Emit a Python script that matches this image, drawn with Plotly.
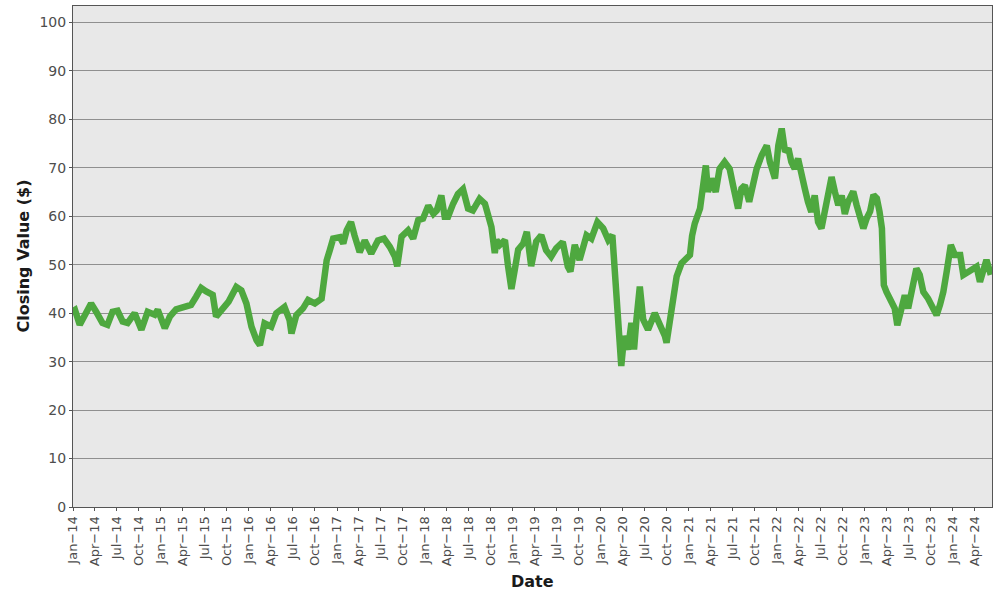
import pandas as pd
import plotly.graph_objects as go

dates = [
    "2014-01-02", "2014-01-09", "2014-01-29", "2014-02-19", "2014-03-17", "2014-04-07",
    "2014-05-03", "2014-05-24", "2014-06-14", "2014-07-05", "2014-07-26", "2014-08-16",
    "2014-09-14", "2014-10-12", "2014-11-07", "2014-12-06", "2014-12-19", "2015-01-17",
    "2015-02-07", "2015-03-05", "2015-04-09", "2015-05-06", "2015-05-27", "2015-06-17",
    "2015-07-08", "2015-08-04", "2015-08-18", "2015-09-14", "2015-10-09", "2015-11-10",
    "2015-12-01", "2015-12-22", "2016-01-12", "2016-02-02", "2016-02-16", "2016-03-06",
    "2016-04-03", "2016-04-24", "2016-05-28", "2016-06-18", "2016-06-26", "2016-07-16",
    "2016-08-13", "2016-09-03", "2016-10-01", "2016-10-29", "2016-11-09", "2016-11-19",
    "2016-12-02", "2016-12-16", "2017-01-13", "2017-01-27", "2017-02-10", "2017-02-28",
    "2017-03-15", "2017-04-05", "2017-04-26", "2017-05-23", "2017-06-20", "2017-07-15",
    "2017-08-08", "2017-08-29", "2017-09-08", "2017-09-26", "2017-10-23", "2017-11-13",
    "2017-12-04", "2017-12-24", "2018-01-15", "2018-02-05", "2018-02-19", "2018-03-10",
    "2018-03-24", "2018-04-07", "2018-04-28", "2018-05-18", "2018-06-08", "2018-06-29",
    "2018-07-19", "2018-08-16", "2018-09-07", "2018-09-21", "2018-10-04", "2018-10-18",
    "2018-10-25", "2018-11-08", "2018-11-29", "2018-12-12", "2018-12-26", "2019-01-09",
    "2019-01-23", "2019-02-13", "2019-02-28", "2019-03-18", "2019-04-08", "2019-04-29",
    "2019-05-19", "2019-06-09", "2019-06-30", "2019-07-27", "2019-08-17", "2019-08-28",
    "2019-09-15", "2019-10-05", "2019-11-03", "2019-11-23", "2019-12-18", "2020-01-11",
    "2020-02-01", "2020-02-18", "2020-02-28", "2020-03-10", "2020-03-19", "2020-03-26",
    "2020-04-07", "2020-04-23", "2020-05-07", "2020-05-18", "2020-05-28", "2020-06-11",
    "2020-06-25", "2020-07-15", "2020-08-12", "2020-09-02", "2020-09-23", "2020-09-30",
    "2020-10-21", "2020-11-11", "2020-12-01", "2020-12-29", "2021-01-05", "2021-01-14",
    "2021-01-25", "2021-02-16", "2021-03-01", "2021-03-12", "2021-03-21", "2021-04-04",
    "2021-04-22", "2021-05-08", "2021-05-29", "2021-06-19", "2021-07-03", "2021-07-24",
    "2021-08-07", "2021-08-21", "2021-09-08", "2021-09-25", "2021-10-09", "2021-10-30",
    "2021-11-20", "2021-12-03", "2021-12-24", "2022-01-07", "2022-01-21", "2022-02-04",
    "2022-02-18", "2022-03-02", "2022-03-16", "2022-03-30", "2022-04-13", "2022-04-27",
    "2022-05-10", "2022-05-24", "2022-06-07", "2022-06-21", "2022-07-05", "2022-07-19",
    "2022-08-02", "2022-08-16", "2022-08-30", "2022-09-13", "2022-09-27", "2022-10-10",
    "2022-10-24", "2022-11-14", "2022-11-28", "2022-12-12", "2022-12-26", "2023-01-09",
    "2023-01-23", "2023-02-06", "2023-02-20", "2023-03-03", "2023-03-13", "2023-03-17",
    "2023-03-21", "2023-04-01", "2023-04-14", "2023-05-05", "2023-05-16", "2023-05-30",
    "2023-06-16", "2023-06-30", "2023-07-20", "2023-08-03", "2023-08-17", "2023-09-01",
    "2023-09-21", "2023-10-12", "2023-10-26", "2023-11-09", "2023-11-23", "2023-12-07",
    "2023-12-16", "2023-12-24", "2024-01-10", "2024-02-01", "2024-02-14", "2024-03-05",
    "2024-03-26", "2024-04-09", "2024-04-23", "2024-05-06", "2024-05-20", "2024-06-07",
]

closing_values = [
    40.5, 40.7, 37.6, 39.3, 42.0, 40.3,
    38.0, 37.6, 40.3, 40.5, 38.3, 38.0,
    40.0, 36.6, 40.3, 39.7, 40.7, 36.9,
    39.3, 40.8, 41.4, 41.7, 43.4, 45.2,
    44.5, 43.8, 39.3, 41.0, 42.4, 45.4,
    44.7, 42.0, 37.2, 34.4, 33.4, 37.9,
    37.2, 40.0, 41.3, 38.6, 35.8, 39.6,
    41.0, 42.7, 42.0, 43.0, 46.8, 50.9,
    53.0, 55.4, 55.7, 54.4, 57.1, 58.8,
    56.0, 52.6, 55.0, 52.3, 55.0, 55.4,
    53.7, 51.7, 49.7, 55.8, 57.1, 55.4,
    59.2, 59.5, 62.2, 60.5, 61.2, 64.3,
    59.9, 59.9, 62.6, 64.6, 65.6, 61.6,
    61.2, 63.6, 62.6, 60.5, 57.8, 52.4,
    55.1, 54.1, 55.1, 49.7, 45.0, 49.0,
    53.1, 54.4, 56.8, 49.7, 54.8, 56.1,
    53.0, 51.7, 53.4, 54.7, 49.6, 48.6,
    54.1, 51.0, 56.1, 55.4, 58.8, 57.5,
    55.1, 56.1, 48.9, 40.7, 33.2, 29.1,
    35.3, 32.5, 38.0, 32.5, 38.7, 45.5,
    38.7, 36.6, 40.0, 38.0, 35.3, 33.9,
    40.7, 47.6, 50.3, 51.7, 52.0, 56.0,
    58.5, 61.6, 67.1, 70.5, 65.0, 67.8,
    65.0, 69.8, 71.2, 69.8, 66.4, 61.6,
    65.7, 66.4, 63.0, 66.4, 69.8, 72.6,
    74.6, 71.2, 67.8, 74.6, 78.1, 73.3,
    74.0, 71.2, 69.8, 71.9, 67.8, 65.7,
    63.0, 60.9, 64.3, 58.8, 57.5, 60.9,
    64.3, 68.1, 65.0, 62.3, 64.3, 60.5,
    63.0, 65.1, 62.3, 60.3, 57.5, 59.6,
    61.0, 64.4, 63.7, 61.0, 57.5, 51.3,
    45.8, 44.4, 43.0, 41.0, 37.5, 40.3,
    43.7, 41.0, 45.8, 49.2, 47.9, 44.4,
    43.0, 41.0, 39.6, 41.7, 44.4, 48.6,
    52.0, 54.1, 52.0, 52.0, 47.9, 48.6,
    49.2, 49.6, 46.5, 49.2, 51.0, 47.9,
]

tick_dates = list(pd.date_range("2014-01-01", "2024-04-01", freq="QS"))
tick_labels = [d.strftime("%b") + "\u2212" + d.strftime("%y") for d in tick_dates]
y_ticks = list(range(0, 101, 10))

x_title = "Date"
y_title = "Closing Value ($)"

FONT = "DejaVu Sans"

fig = go.Figure()
fig.add_trace(go.Scatter(
    x=pd.to_datetime(dates), y=closing_values, mode="lines",
    line=dict(color="#4ea83f", width=6.5), showlegend=False, hoverinfo="skip",
))

fig.update_layout(
    width=1000, height=600,
    margin=dict(l=73, r=8, t=6, b=93),
    paper_bgcolor="white", plot_bgcolor="#e8e8e8",
    font=dict(family=FONT, size=14, color="#4d4d4d"),
)
fig.update_xaxes(
    type="date", range=["2014-01-01", "2024-06-12"], automargin=False,
    tickvals=tick_dates, ticktext=tick_labels, tickangle=-90,
    tickfont=dict(family=FONT, size=13, color="#4d4d4d"),
    ticks="outside", ticklen=3, tickcolor="#555555",
    showgrid=False, zeroline=False,
    showline=True, linecolor="#555555", linewidth=1, mirror=True,
)
fig.update_yaxes(
    range=[0, 103.4], tickvals=y_ticks, automargin=False,
    tickfont=dict(family=FONT, size=14, color="#4d4d4d"),
    ticks="outside", ticklen=3, tickcolor="#555555",
    showgrid=True, gridcolor="#8f8f8f", gridwidth=1, zeroline=False,
    showline=True, linecolor="#555555", linewidth=1, mirror=True,
)
fig.add_annotation(
    text="<b>" + x_title + "</b>", xref="paper", yref="paper",
    x=0.5, y=-0.1497, xanchor="center", yanchor="middle", showarrow=False,
    font=dict(family=FONT, size=16, color="#1a1a1a"),
)
fig.add_annotation(
    text="<b>" + y_title + "</b>", xref="paper", yref="paper",
    x=-0.0544, y=0.5, xanchor="center", yanchor="middle", showarrow=False,
    textangle=-90, font=dict(family=FONT, size=16, color="#1a1a1a"),
)

fig.write_html(
    "out.html",
    config={"displayModeBar": False},
    post_script="document.body.style.margin='0px';document.body.style.overflow='hidden';",
)
